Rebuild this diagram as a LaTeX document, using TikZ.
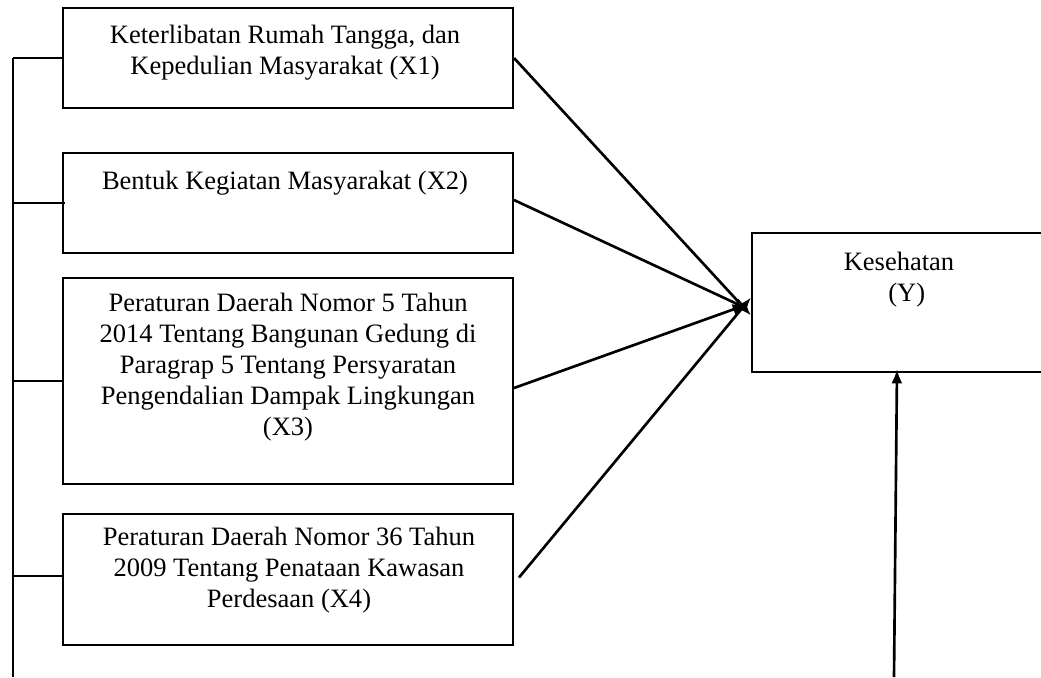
\documentclass[tikz,border=0pt]{standalone}
\usepackage{fontspec}
\setmainfont{Liberation Serif}
\usepackage{tikz}
\usetikzlibrary{positioning,arrows.meta}
\newcommand{\pxl}[1]{#1*0.4525pt}

\begin{document}
\begin{tikzpicture}
  [x=0.4525pt, y=-0.4525pt,
  font=\fontsize{12}{14}\selectfont,
  block/.style={rectangle, draw=black, line width=0.9pt, inner sep=0pt, minimum width=\pxl{450}},
  txt/.style={align=center, inner sep=0pt},
  line/.style={draw, line width=0.9pt},
  arrline/.style={draw, line width=1.2pt, -{Latex[length=6.5pt,width=5pt]}}]
  \useasboundingbox (0,0) rectangle (1041,677);
  \clip (0,0) rectangle (1041,677);
  % nodes
  \node [block, minimum height=\pxl{100}] (x1) at (288,58) {};
  \node [txt] (x1t) at (285,53) {Keterlibatan Rumah Tangga, dan\\Kepedulian Masyarakat (X1)};
  \node [block, minimum height=\pxl{100}] (x2) at (288,203) {};
  \node [txt] (x2t) at (285,183) {Bentuk Kegiatan Masyarakat (X2)};
  \node [block, minimum height=\pxl{206}] (x3) at (288,381) {};
  \node [txt] (x3t) at (288,367) {Peraturan Daerah Nomor 5 Tahun\\2014 Tentang Bangunan Gedung di\\Paragrap 5 Tentang Persyaratan\\Pengendalian Dampak Lingkungan\\(X3)};
  \node [block, minimum height=\pxl{131}] (x4) at (288,579.5) {};
  \node [txt] (x4t) at (289,570) {Peraturan Daerah Nomor 36 Tahun\\2009 Tentang Penataan Kawasan\\Perdesaan (X4)};
  \node [block, minimum width=\pxl{308}, minimum height=\pxl{139}] (y) at (906,302.5) {};
  \node [txt] (yt) at (899,280) {Kesehatan\\\hspace*{7pt}(Y)};
  \coordinate (top) at (13,58);
  \coordinate (bot) at (13,677);
  \coordinate (ybot) at (894,677);

  % edges
  \path [line] (top) -- (bot);
  \path [line] (top) -- (x1.west);
  \path [line] (top |- x2.west) -- ([xshift=\pxl{3}]x2.west);
  \path [line] (top |- x3) -- (x3);
  \path [line] (13,576) -- (x4.west |- 0,576);
  \path [arrline] (x1.east) -- ([yshift=\pxl{-13}]y.west);
  \path [arrline] ([yshift=\pxl{3}]x2.east) -- ([xshift=\pxl{-2},yshift=\pxl{-7}]y.west);
  \path [arrline] ([yshift=\pxl{-7}]x3.east) -- ([xshift=\pxl{-4},yshift=\pxl{-2}]y.west);
  \path [arrline] ([xshift=\pxl{5},yshift=\pxl{2}]x4.east) -- ([yshift=\pxl{5}]y.west);
  \path [arrline] (ybot) -- ([xshift=\pxl{-9},yshift=\pxl{4}]y.south);

\end{tikzpicture}
\end{document}
